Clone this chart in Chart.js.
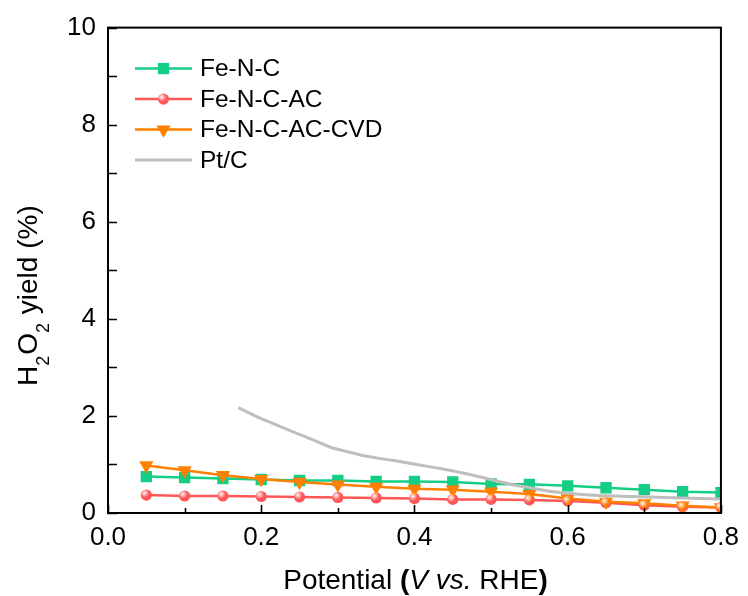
<!DOCTYPE html>
<html><head><meta charset="utf-8">
<script src="https://cdn.jsdelivr.net/npm/chart.js@4/dist/chart.umd.min.js"></script>
<style>html,body{margin:0;padding:0;background:#fff}#wrap{width:748px;height:596px}</style>
</head><body><div id="wrap"><canvas id="c" width="748" height="596" style="width:748px;height:596px"></canvas></div>
<script>
// ---- data ----
const potentials = [0.05,0.10,0.15,0.20,0.25,0.30,0.35,0.40,0.45,0.50,0.55,0.60,0.65,0.70,0.75,0.80];
const feNC      = [0.75,0.73,0.71,0.69,0.67,0.67,0.65,0.65,0.64,0.60,0.59,0.56,0.52,0.48,0.44,0.42];
const feNCAC    = [0.37,0.35,0.35,0.34,0.33,0.32,0.31,0.30,0.28,0.28,0.27,0.245,0.21,0.16,0.13,0.115];
const feNCACCVD = [0.98,0.88,0.78,0.70,0.64,0.585,0.54,0.50,0.48,0.44,0.39,0.30,0.23,0.20,0.15,0.115];
const ptcPotential = [0.17,0.196,0.222,0.248,0.27,0.291,0.313,0.334,0.356,0.377,0.403,0.425,0.446,0.468,0.489,0.51,0.532,0.554,0.576,0.597,0.619,0.64,0.662,0.684,0.705,0.727,0.748,0.775,0.80];
const ptcYield     = [2.17,1.97,1.80,1.63,1.49,1.35,1.26,1.18,1.12,1.07,1.00,0.94,0.88,0.81,0.73,0.65,0.57,0.51,0.45,0.41,0.38,0.36,0.35,0.34,0.33,0.32,0.31,0.30,0.29];
const seriesNames = ['Fe-N-C','Fe-N-C-AC','Fe-N-C-AC-CVD','Pt/C'];
const xTickValues = [0,0.2,0.4,0.6,0.8];
const xTickLabels = ['0.0','0.2','0.4','0.6','0.8'];
const xMinorTicks = [0.1,0.3,0.5,0.7];
const yTickValues = [0,2,4,6,8,10];
const yTickLabels = ['0','2','4','6','8','10'];
const yMinorTicks = [1,3,5,7,9];

const FONT = '"Liberation Sans", Arial, Helvetica, sans-serif';
const GREEN = '#14CE86', RED = '#FF5757', ORANGE = '#FF7F00', GREY = '#BEBEBE';

const pts = (xs, ys) => xs.map((x, i) => ({x: x, y: ys[i]}));

const datasets = [
  {label: seriesNames[0], data: pts(potentials, feNC), borderColor: GREEN, backgroundColor: GREEN,
   borderWidth: 2.5, pointStyle: 'rect', pointRadius: 8, pointBorderWidth: 0, order: 4},
  {label: seriesNames[1], data: pts(potentials, feNCAC), borderColor: RED, backgroundColor: RED,
   borderWidth: 2.5, pointStyle: 'circle', pointRadius: 5.6, pointBorderWidth: 0, order: 3, shine: true},
  {label: seriesNames[2], data: pts(potentials, feNCACCVD), borderColor: ORANGE, backgroundColor: ORANGE,
   borderWidth: 2.5, pointStyle: 'triangle', pointRotation: 180, pointRadius: 8.2, pointBorderWidth: 0, order: 2},
  {label: seriesNames[3], data: pts(ptcPotential, ptcYield), borderColor: GREY, backgroundColor: GREY,
   borderWidth: 3, pointRadius: 0, order: 1}
];

function drawMarker(ctx, ds, x, y) {
  if (!ds.pointRadius) return;
  ctx.save();
  ctx.fillStyle = ds.backgroundColor;
  ctx.beginPath();
  const r = ds.pointRadius;
  if (ds.pointStyle === 'rect') {
    const s = Math.SQRT1_2 * r;
    ctx.rect(x - s, y - s, 2 * s, 2 * s);
  } else if (ds.pointStyle === 'circle') {
    ctx.arc(x, y, r, 0, Math.PI * 2);
  } else if (ds.pointStyle === 'triangle') {
    ctx.moveTo(x, y + r);
    ctx.lineTo(x - r * Math.sin(Math.PI / 3), y - r / 2);
    ctx.lineTo(x + r * Math.sin(Math.PI / 3), y - r / 2);
    ctx.closePath();
  }
  ctx.fill();
  ctx.restore();
  if (ds.shine) drawShine(ctx, x, y, r);
}
function drawShine(ctx, x, y, r) {
  ctx.save();
  const g = ctx.createRadialGradient(x - r * 0.3, y - r * 0.35, 0, x - r * 0.3, y - r * 0.35, r * 0.8);
  g.addColorStop(0, 'rgba(255,255,255,0.95)');
  g.addColorStop(1, 'rgba(255,255,255,0)');
  ctx.fillStyle = g;
  ctx.beginPath();
  ctx.arc(x, y, r, 0, Math.PI * 2);
  ctx.fill();
  ctx.restore();
}

const decor = {
  id: 'decor',
  afterDatasetsDraw(chart) {
    const ctx = chart.ctx;
    chart.data.datasets.forEach((ds, i) => {
      if (!ds.shine) return;
      chart.getDatasetMeta(i).data.forEach(el => drawShine(ctx, el.x, el.y, ds.pointRadius));
    });
  },
  afterDraw(chart) {
    const ctx = chart.ctx, a = chart.chartArea;
    const xs = chart.scales.x, ys = chart.scales.y;
    ctx.save();
    // frame
    ctx.strokeStyle = '#000';
    ctx.lineWidth = 2;
    ctx.strokeRect(a.left, a.top, a.right - a.left, a.bottom - a.top);
    // inward ticks
    ctx.lineWidth = 1.6;
    ctx.beginPath();
    xTickValues.forEach(v => { const p = Math.round(xs.getPixelForValue(v)) + 0.5; ctx.moveTo(p, a.bottom); ctx.lineTo(p, a.bottom - 8); });
    xMinorTicks.forEach(v => { const p = Math.round(xs.getPixelForValue(v)) + 0.5; ctx.moveTo(p, a.bottom); ctx.lineTo(p, a.bottom - 5); });
    yTickValues.forEach(v => { const p = Math.round(ys.getPixelForValue(v)) + 0.5; ctx.moveTo(a.left, p); ctx.lineTo(a.left + 9, p); });
    yMinorTicks.forEach(v => { const p = Math.round(ys.getPixelForValue(v)) + 0.5; ctx.moveTo(a.left, p); ctx.lineTo(a.left + 9, p); });
    ctx.stroke();

    // legend
    ctx.font = '24.5px ' + FONT;
    ctx.textBaseline = 'middle';
    ctx.textAlign = 'left';
    chart.data.datasets.forEach((ds, i) => {
      const y = a.top + 41 + i * 30.5;
      const x0 = a.left + 27, x1 = a.left + 84;
      ctx.strokeStyle = ds.borderColor;
      ctx.lineWidth = ds.borderWidth;
      ctx.beginPath(); ctx.moveTo(x0, y); ctx.lineTo(x1, y); ctx.stroke();
      drawMarker(ctx, ds, (x0 + x1) / 2, y);
      ctx.fillStyle = '#000';
      ctx.fillText(ds.label, a.left + 92, y + 1);
    });

    // x title with mixed styles
    const parts = [
      {t: 'Potential ', f: '28px ' + FONT},
      {t: '(', f: 'bold 28px ' + FONT},
      {t: 'V vs.', f: 'italic 28px ' + FONT},
      {t: ' RHE', f: '28px ' + FONT},
      {t: ')', f: 'bold 28px ' + FONT}
    ];
    let total = 0;
    parts.forEach(p => { ctx.font = p.f; p.w = ctx.measureText(p.t).width; total += p.w; });
    let x = (a.left + a.right) / 2 - total / 2 + 1;
    ctx.textBaseline = 'alphabetic';
    ctx.fillStyle = '#000';
    parts.forEach(p => { ctx.font = p.f; ctx.fillText(p.t, x, 589); x += p.w; });

    // y title: H2O2 yield (%)
    ctx.translate(37, 386);
    ctx.rotate(-Math.PI / 2);
    const yparts = [
      {t: 'H', f: '28px ' + FONT, dy: 0},
      {t: '2', f: '18px ' + FONT, dy: 12},
      {t: 'O', f: '28px ' + FONT, dy: 0},
      {t: '2', f: '18px ' + FONT, dy: 12},
      {t: ' yield (%)', f: '28px ' + FONT, dy: 0}
    ];
    let yx = 0;
    yparts.forEach(p => { ctx.font = p.f; ctx.fillText(p.t, yx, p.dy); yx += ctx.measureText(p.t).width + (p.dy ? 1 : 0); });
    ctx.restore();
  }
};

new Chart(document.getElementById('c'), {
  type: 'line',
  data: {datasets: datasets},
  options: {
    responsive: false,
    animation: false,
    layout: {padding: {top: 23, right: 21, left: 0, bottom: 0}},
    plugins: {legend: {display: false}, tooltip: {enabled: false}},
    elements: {line: {tension: 0}},
    scales: {
      x: {
        type: 'linear', min: 0, max: 0.8,
        afterBuildTicks: s => { s.ticks = xTickValues.map(v => ({value: v})); },
        afterFit: s => { s.height = 83; },
        ticks: {
          callback: (v) => xTickLabels[xTickValues.findIndex(t => Math.abs(t - v) < 1e-9)],
          font: {family: FONT, size: 26}, color: '#000', padding: 9, maxRotation: 0, autoSkip: false
        },
        grid: {display: false, drawTicks: false},
        border: {display: false}
      },
      y: {
        type: 'linear', min: 0, max: 10,
        afterBuildTicks: s => { s.ticks = yTickValues.map(v => ({value: v})); },
        afterFit: s => { s.width = 108; },
        ticks: {
          callback: (v) => yTickLabels[yTickValues.indexOf(v)],
          font: {family: FONT, size: 26}, color: '#000', padding: 12
        },
        grid: {display: false, drawTicks: false},
        border: {display: false}
      }
    }
  },
  plugins: [decor]
});
</script>
</body></html>
